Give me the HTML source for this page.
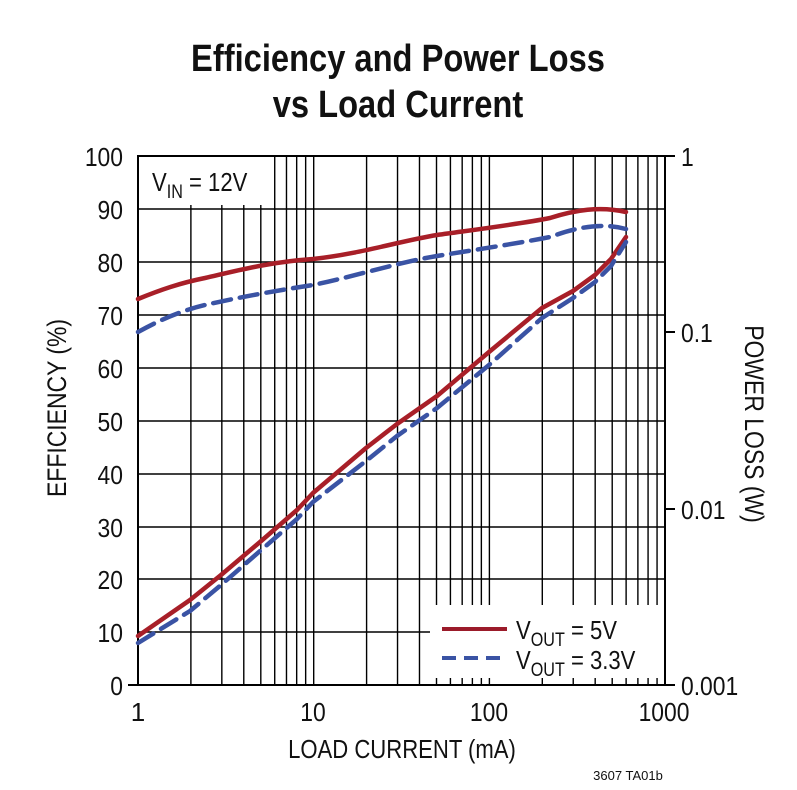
<!DOCTYPE html>
<html><head><style>body{margin:0;background:#fff}svg{display:block}</style></head><body>
<svg width="797" height="790" viewBox="0 0 797 790" xmlns="http://www.w3.org/2000/svg" font-family="Liberation Sans, sans-serif">
<rect width="797" height="790" fill="#fff"/>
<g font-weight="bold" font-size="38" text-anchor="middle" fill="#111">
<text x="398" y="71" transform="translate(398,0) scale(0.86,1) translate(-398,0)">Efficiency and Power Loss</text>
<text x="398" y="117" transform="translate(398,0) scale(0.86,1) translate(-398,0)">vs Load Current</text>
</g>
<g stroke="#000" stroke-width="1.6">
<line x1="138" y1="209" x2="665" y2="209"/><line x1="138" y1="262" x2="665" y2="262"/><line x1="138" y1="315" x2="665" y2="315"/><line x1="138" y1="368" x2="665" y2="368"/><line x1="138" y1="421" x2="665" y2="421"/><line x1="138" y1="474" x2="665" y2="474"/><line x1="138" y1="527" x2="665" y2="527"/><line x1="138" y1="579" x2="665" y2="579"/><line x1="138" y1="632" x2="665" y2="632"/>
</g>
<g stroke="#000" stroke-width="1.4" id="v"></g>
<rect x="139" y="157" width="123" height="48" fill="#fff"/>
<text x="152" y="191" font-size="26" fill="#111" transform="translate(152,0) scale(0.85,1) translate(-152,0)">V<tspan font-size="19" dy="7">IN</tspan><tspan dy="-7"> = 12V</tspan></text>
<rect x="430" y="605" width="234" height="79" fill="#fff"/>
<g stroke="#000" stroke-width="1.4" id="bt"></g>
<line x1="442" y1="629" x2="507" y2="629" stroke="#9b1b2a" stroke-width="4"/>
<line x1="442" y1="658" x2="507" y2="658" stroke="#3a53a4" stroke-width="4" stroke-dasharray="14,8"/>
<g font-size="26" fill="#111">
<text x="516" y="639" transform="translate(516,0) scale(0.85,1) translate(-516,0)">V<tspan font-size="19" dy="7">OUT</tspan><tspan dy="-7"> = 5V</tspan></text>
<text x="516" y="669" transform="translate(516,0) scale(0.85,1) translate(-516,0)">V<tspan font-size="19" dy="7">OUT</tspan><tspan dy="-7"> = 3.3V</tspan></text>
</g>
<rect x="138" y="156" width="527" height="529" fill="none" stroke="#000" stroke-width="2"/>
<g stroke="#000" stroke-width="2">
<line x1="665" y1="156" x2="675" y2="156"/><line x1="665" y1="332" x2="675" y2="332"/><line x1="665" y1="509" x2="675" y2="509"/><line x1="665" y1="685" x2="675" y2="685"/>
<line x1="128" y1="685" x2="138" y2="685"/>
</g>
<g fill="none" stroke-width="4.5" stroke-linecap="round" stroke-linejoin="round">
<path stroke="#a81f28" d="M138,299 C160,290 180,283 205,278 C240,270 270,262 313,259 C360,254 400,241 437,235 C480,229 520,224 550,218 C575,210 600,206 626,212"/>
<path stroke="#a81f28" d="M138,636 L190,600 L221,575 L260,542 L297,510 L313,493 L366,448 L397,424 L437,396 L489,352 L542,308 L573,291 L595,275 L611,259 L626,237"/>
<path stroke="#3a53a4" stroke-dasharray="18,9" d="M138,332 C160,320 180,311 205,305 C240,297 280,290 313,285 C360,275 400,262 437,256 C480,249 520,243 550,237 C575,228 600,222 626,229"/>
<path stroke="#3a53a4" stroke-dasharray="18,9" d="M138,643 L190,611 L221,585 L260,551 L297,519 L313,502 L366,461 L397,436 L437,408 L489,365 L542,318 L573,298 L595,282 L611,266 L626,242"/>
</g>
<g font-size="26" fill="#111" text-anchor="end">
<text x="123" y="166" transform="translate(123,0) scale(0.88,1) translate(-123,0)">100</text>
<text x="123" y="219" transform="translate(123,0) scale(0.88,1) translate(-123,0)">90</text>
<text x="123" y="272" transform="translate(123,0) scale(0.88,1) translate(-123,0)">80</text>
<text x="123" y="325" transform="translate(123,0) scale(0.88,1) translate(-123,0)">70</text>
<text x="123" y="378" transform="translate(123,0) scale(0.88,1) translate(-123,0)">60</text>
<text x="123" y="431" transform="translate(123,0) scale(0.88,1) translate(-123,0)">50</text>
<text x="123" y="484" transform="translate(123,0) scale(0.88,1) translate(-123,0)">40</text>
<text x="123" y="537" transform="translate(123,0) scale(0.88,1) translate(-123,0)">30</text>
<text x="123" y="589" transform="translate(123,0) scale(0.88,1) translate(-123,0)">20</text>
<text x="123" y="642" transform="translate(123,0) scale(0.88,1) translate(-123,0)">10</text>
<text x="123" y="695" transform="translate(123,0) scale(0.88,1) translate(-123,0)">0</text>
</g>
<g font-size="26" fill="#111" text-anchor="middle">
<text x="138" y="721">1</text>
<text x="313" y="721" transform="translate(313,0) scale(0.88,1) translate(-313,0)">10</text>
<text x="489" y="721" transform="translate(489,0) scale(0.88,1) translate(-489,0)">100</text>
<text x="664" y="721" transform="translate(664,0) scale(0.88,1) translate(-664,0)">1000</text>
<text x="402" y="758" transform="translate(402,0) scale(0.85,1) translate(-402,0)">LOAD CURRENT (mA)</text>
</g>
<g font-size="26" fill="#111">
<text x="681" y="166" transform="translate(681,0) scale(0.88,1) translate(-681,0)">1</text>
<text x="681" y="342" transform="translate(681,0) scale(0.88,1) translate(-681,0)">0.1</text>
<text x="681" y="519" transform="translate(681,0) scale(0.88,1) translate(-681,0)">0.01</text>
<text x="681" y="695" transform="translate(681,0) scale(0.88,1) translate(-681,0)">0.001</text>
</g>
<text transform="translate(66,408) rotate(-90) scale(0.85,1)" font-size="27" text-anchor="middle" fill="#111">EFFICIENCY (%)</text>
<text transform="translate(745,424) rotate(90) scale(0.85,1)" font-size="27" text-anchor="middle" fill="#111">POWER LOSS (W)</text>
<text x="628" y="780" font-size="13" text-anchor="middle" fill="#111">3607 TA01b</text>
<script>
var v=document.getElementById('v'),bt=document.getElementById('bt'),ns='http://www.w3.org/2000/svg';
for(var d=0;d<3;d++)for(var k=2;k<=10;k++){if(d==2&&k==10)continue;var x=138+175.7*(d+Math.log10(k));
var l=document.createElementNS(ns,'line');l.setAttribute('x1',x);l.setAttribute('x2',x);l.setAttribute('y1',156);l.setAttribute('y2',685);v.appendChild(l);
if(x>430){var b=document.createElementNS(ns,'line');b.setAttribute('x1',x);b.setAttribute('x2',x);b.setAttribute('y1',678);b.setAttribute('y2',685);bt.appendChild(b);}}
</script>
</svg>
</body></html>
